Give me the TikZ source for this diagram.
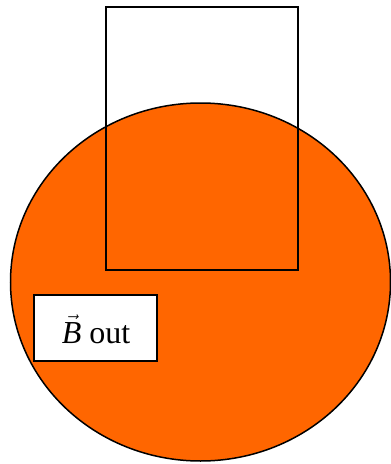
\documentclass[tikz,border=0pt]{standalone}
\usepackage{fontspec}
\setmainfont{Liberation Serif}
\usetikzlibrary{positioning}

\tikzset{
    outline/.style={draw=black, line width=1.5},
    disk/.style={outline, fill=orangedisk},
    labelbox/.style={outline, fill=white},
    labeltext/.style={anchor=base, inner sep=0pt, font={\fontsize{32pt}{36pt}\selectfont}}
}
\definecolor{orangedisk}{HTML}{FF6600}

\begin{document}
\begin{tikzpicture}[x=1pt, y=-1pt]
\useasboundingbox (0,0) rectangle (391,464);

% Orange disk
\draw[disk] (200.5,282) ellipse [x radius=190, y radius=179];

% Loop drawn over the disk
\draw[outline] (106,7) rectangle (298,270);

% Field label
\draw[labelbox] (34,295) rectangle (157,361);
\node[labeltext] (fieldlabel) at (96,343) {$\vec{\mathit{B}}$ out};

\end{tikzpicture}
\end{document}
